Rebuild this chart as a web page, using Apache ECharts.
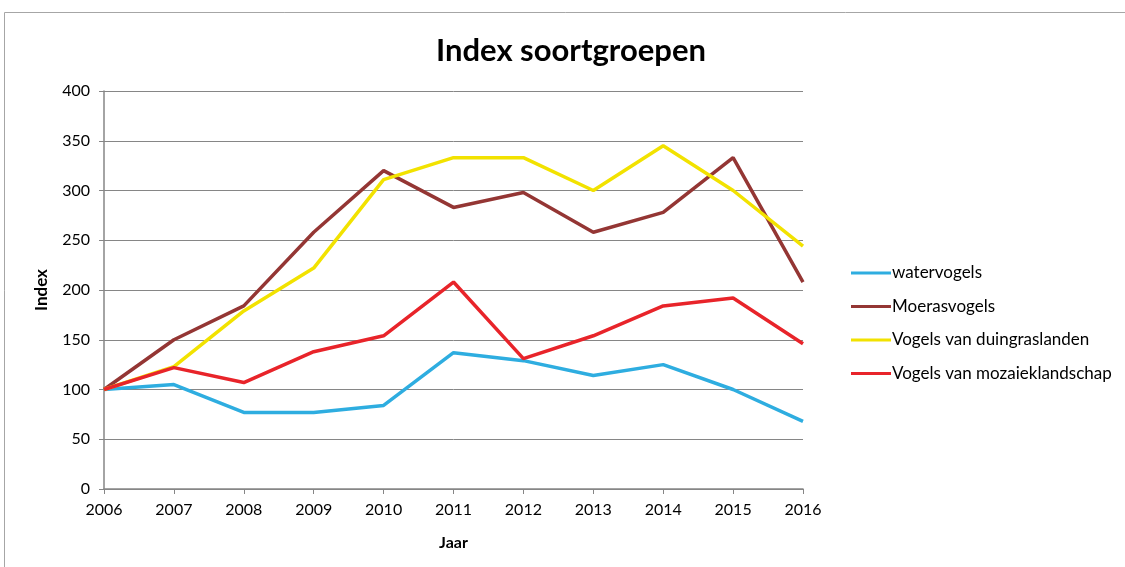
<!DOCTYPE html>
<html>
<head>
	<meta charset="utf-8">
	<title>Index soortgroepen</title>
	<script src="https://cdn.jsdelivr.net/npm/echarts@6/dist/echarts.min.js"></script>
	<style>
	html, body { margin: 0; padding: 0; background: #fff; }
	#chart1 { width: 1125px; height: 567px; }
	</style>
</head>
<body>
<div id="chart1"></div>
<script>
var jaren = ['2006','2007','2008','2009','2010','2011','2012','2013','2014','2015','2016'];
var watervogels = [100, 105, 77, 77, 84, 137, 129, 114, 125, 100, 68];
var moerasvogels = [100, 150, 184, 258, 320, 283, 298, 258, 278, 333, 208];
var duingraslanden = [100, 123, 179, 222, 311, 333, 333, 300, 345, 300, 244];
var mozaiek = [100, 122, 107, 138, 154, 208, 131, 154, 184, 192, 146];

var font = 'Lato, "Open Sans", sans-serif';
var grijs = '#868686';

function lijn(naam, data, kleur) {
	return {
		name: naam,
		type: 'line',
		data: data,
		symbol: 'none',
		lineStyle: { color: kleur, width: 3.5 },
		itemStyle: { color: kleur },
		animation: false
	};
}

var chart1 = echarts.init(document.getElementById('chart1'));
chart1.setOption({
	backgroundColor: '#fff',
	textStyle: { fontFamily: font },
	title: {
		text: 'Index soortgroepen',
		left: 566,
		textAlign: 'center',
		top: 30,
		textStyle: { fontFamily: font, fontSize: 31, fontWeight: 'bold', color: '#000' }
	},
	graphic: [{
		type: 'rect',
		shape: { x: 4.5, y: 12.5, width: 1130, height: 570 },
		style: { fill: 'none', stroke: '#a6a6a6', lineWidth: 1 },
		silent: true
	}],
	legend: {
		orient: 'vertical',
		left: 846,
		top: 259,
		itemWidth: 40,
		itemHeight: 3,
		itemGap: 15.5,
		icon: 'rect',
		textStyle: { fontFamily: font, fontSize: 17, lineHeight: 18, color: '#000', padding: [0, 0, 0, -4] },
		data: ['watervogels', 'Moerasvogels', 'Vogels van duingraslanden', 'Vogels van mozaieklandschap']
	},
	grid: { left: 104, right: 322, top: 91, bottom: 78 },
	xAxis: {
		type: 'category',
		data: jaren,
		boundaryGap: false,
		name: 'Jaar',
		nameLocation: 'middle',
		nameGap: 46,
		nameTextStyle: { fontFamily: font, fontSize: 16, fontWeight: 'bold', color: '#000' },
		axisLine: { lineStyle: { color: grijs, width: 1.5 } },
		axisTick: { show: true, length: 5, alignWithLabel: true, lineStyle: { color: grijs } },
		axisLabel: { fontFamily: font, fontSize: 16, color: '#000', margin: 13 },
		splitLine: { show: false }
	},
	yAxis: {
		type: 'value',
		min: 0,
		max: 400,
		interval: 50,
		name: 'Index',
		nameLocation: 'middle',
		nameGap: 54,
		nameRotate: 90,
		nameTextStyle: { fontFamily: font, fontSize: 17, fontWeight: 'bold', color: '#000' },
		axisLine: { show: true, lineStyle: { color: grijs, width: 1.5 } },
		axisTick: { show: true, length: 5, lineStyle: { color: grijs } },
		axisLabel: { fontFamily: font, fontSize: 16, color: '#000', margin: 14 },
		splitLine: { lineStyle: { color: grijs, width: 1 } }
	},
	series: [
		lijn('watervogels', watervogels, '#2EADE0'),
		lijn('Moerasvogels', moerasvogels, '#943634'),
		lijn('Vogels van duingraslanden', duingraslanden, '#F2E200'),
		lijn('Vogels van mozaieklandschap', mozaiek, '#E8242A')
	]
});
</script>
</body>
</html>
